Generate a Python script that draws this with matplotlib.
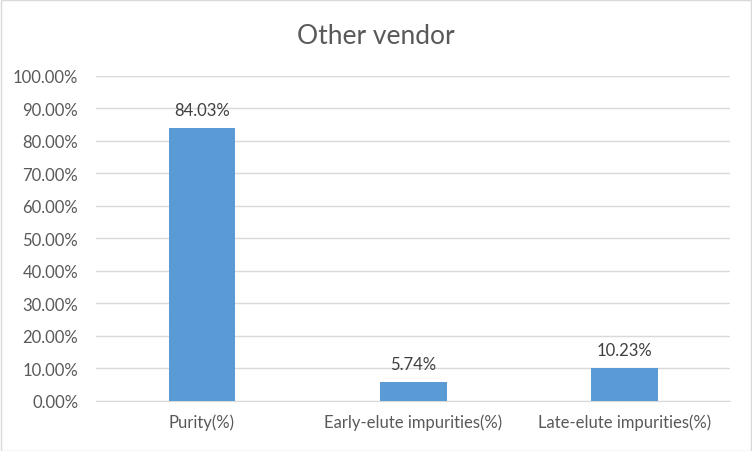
import numpy as np
import matplotlib.pyplot as plt
from matplotlib.ticker import FuncFormatter, MultipleLocator

plt.rcParams['font.family'] = ['Lato', 'DejaVu Sans']

# Data
categories = ["Purity(%)", "Early-elute impurities(%)", "Late-elute impurities(%)"]
values = [84.03, 5.74, 10.23]
labels = ["84.03%", "5.74%", "10.23%"]

text_col = "#595959"

fig = plt.figure(figsize=(7.52, 4.52), dpi=100)
ax = fig.add_axes([0.128, 0.111, 0.843, 0.719])

x = np.arange(len(categories))
bars = ax.bar(x, values, width=0.315, color="#5B9BD5", zorder=3)

for b, lab in zip(bars, labels):
    ax.text(b.get_x() + b.get_width() / 2, b.get_height() + 3.0, lab,
            ha="center", va="bottom", fontsize=12, color="#404040")

ax.set_xlim(-0.5, len(categories) - 0.5)
ax.set_ylim(0, 100)
ax.yaxis.set_major_locator(MultipleLocator(10))
ax.yaxis.set_major_formatter(FuncFormatter(lambda v, p: f"{v:.2f}%"))
ax.set_xticks(x)
ax.set_xticklabels(categories)

ax.grid(axis="y", color="#D9D9D9", linewidth=1, zorder=0)
for s in ["top", "right", "left"]:
    ax.spines[s].set_visible(False)
ax.spines["bottom"].set_color("#D9D9D9")
ax.tick_params(axis="both", length=0, labelsize=12, colors=text_col)
ax.tick_params(axis="x", pad=9)
ax.tick_params(axis="y", pad=13)

fig.text(0.5, 0.92, "Other vendor", ha="center", va="center",
         fontsize=19, color=text_col)

# outer border
fig.patches.append(plt.Rectangle((0.001, 0.001), 0.998, 0.997, transform=fig.transFigure,
                                 fill=False, edgecolor="#D9D9D9", linewidth=1))

fig.savefig("out.png", dpi=100)
